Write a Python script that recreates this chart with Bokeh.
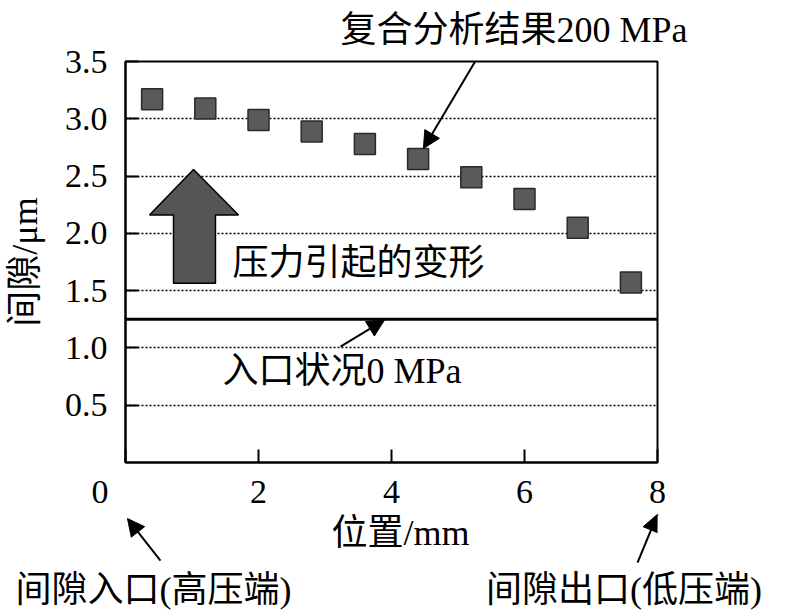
import math
from bokeh.plotting import figure
from bokeh.layouts import column
from bokeh.models import Range1d, FixedTicker, Label, Arrow, NormalHead, ColumnDataSource, Title
from bokeh.embed import file_html
from bokeh.resources import INLINE

# ---- data ----
positions = [0.4, 1.2, 2.0, 2.8, 3.6, 4.4, 5.2, 6.0, 6.8, 7.6]          # 位置/mm
gap_200mpa = [3.17, 3.09, 2.99, 2.89, 2.78, 2.65, 2.49, 2.30, 2.05, 1.57]  # 复合分析结果200 MPa
line_x = [0, 8]
gap_0mpa = [1.25, 1.25]                                                    # 入口状况0 MPa
y_ticks = [0.5, 1.0, 1.5, 2.0, 2.5, 3.0, 3.5]
y_tick_labels = ["0.5", "1.0", "1.5", "2.0", "2.5", "3.0", "3.5"]
x_ticks = [0, 2, 4, 6, 8]
x_tick_labels = ["0", "2", "4", "6", "8"]

MIX = "Liberation Serif, Noto Sans CJK SC"
SERIF = "Liberation Serif"

# ---------------- main chart ----------------
p = figure(width=787, height=512, output_backend="svg", toolbar_location=None,
           x_range=Range1d(0, 8), y_range=Range1d(0, 3.5),
           min_border_left=125, min_border_right=130, min_border_top=59, min_border_bottom=48)
p.background_fill_color = "white"
p.border_fill_color = "white"
p.outline_line_color = "black"
p.outline_line_width = 2
p.xgrid.visible = False
p.ygrid.ticker = FixedTicker(ticks=y_ticks[:-1])
p.ygrid.grid_line_color = "black"
p.ygrid.grid_line_dash = "2 2"
p.ygrid.grid_line_width = 1.5

for ax in (p.xaxis[0], p.yaxis[0]):
    ax.axis_line_color = "black"
    ax.axis_line_width = 2
    ax.major_tick_in = 13
    ax.major_tick_out = 0
    ax.major_tick_line_width = 2
    ax.minor_tick_line_color = None
    ax.major_label_text_font = SERIF
    ax.major_label_text_font_size = "34px"
    ax.major_label_text_color = "black"
    ax.axis_label_text_font = MIX
    ax.axis_label_text_font_size = "36px"
    ax.axis_label_text_font_style = "normal"
    ax.axis_label_text_color = "black"

p.yaxis.ticker = FixedTicker(ticks=y_ticks)
p.yaxis.major_label_overrides = {t: l for t, l in zip(y_ticks, y_tick_labels)}
p.yaxis.major_label_standoff = 18
p.yaxis.axis_label = "间隙/μm"
p.yaxis.axis_label_standoff = 17
p.xaxis.ticker = FixedTicker(ticks=x_ticks)
# the origin "0" sits left of the corner: pad it with em/en spaces
overrides = {t: l for t, l in zip(x_ticks, x_tick_labels)}
overrides[0] = overrides[0] + "\u2003\u2002"
p.xaxis.major_label_overrides = overrides
p.xaxis.major_label_standoff = 10

p.title = Title(text="复合分析结果200 MPa", align="left", offset=215, standoff=19,
                vertical_align="top",
                text_font=MIX, text_font_size="36px", text_font_style="normal",
                text_color="black")

# 0 MPa line
p.line(line_x, gap_0mpa, line_color="black", line_width=3)

# 200 MPa squares
src = ColumnDataSource(dict(x=positions, y=gap_200mpa))
p.scatter("x", "y", source=src, marker="square", size=21,
          fill_color="#5a5a5a", line_color="#2a2a2a", line_width=1.5)

# big block arrow (压力引起的变形)
block_x = [1.023, 1.699, 1.353, 1.353, 0.722, 0.722, 0.361]
block_y = [2.558, 2.161, 2.161, 1.564, 1.564, 2.161, 2.161]
p.patch(block_x, block_y, fill_color="#555555", line_color="black", line_width=1.5)


def lab(fig, x, y, text, size="36px", align="left", base="middle", font=MIX,
        color="black", alpha=1.0):
    fig.add_layout(Label(x=x, y=y, text=text, text_font=font, text_font_size=size,
                         text_align=align, text_baseline=base,
                         text_color=color, text_alpha=alpha))


def arr(fig, x0, y0, x1, y1):
    fig.add_layout(Arrow(x_start=x0, y_start=y0, x_end=x1, y_end=y1, line_width=2,
                         line_color="black",
                         end=NormalHead(size=17, fill_color="black", line_color="black")))


arr(p, 5.34, 3.58, 4.48, 2.74)
lab(p, 1.609, 1.737, "压力引起的变形")
lab(p, 1.459, 0.795, "入口状况0 MPa")
arr(p, 3.233, 1.011, 3.895, 1.244)

# ---------------- bottom strip (frame aligned with the chart, same x scale) ----------------
q = figure(width=787, height=102, output_backend="svg", toolbar_location=None,
           x_range=p.x_range,
           y_range=Range1d(-100 / 115.714, -48 / 115.714),
           min_border_left=125, min_border_right=130, min_border_top=0, min_border_bottom=50)
q.axis.visible = False
q.grid.visible = False
q.outline_line_color = None
q.background_fill_color = "white"
q.border_fill_color = "white"

lab(q, 4.135, -0.596, "位置/mm", align="center")
arr(q, 0.526, -0.83, 0.03, -0.467)
arr(q, 7.70, -0.847, 8.0, -0.43)
q.add_layout(Title(text="间隙入口(高压端)" + "\u3000" * 5 + "\u2009\u2009" + "间隙出口(低压端)",
                   align="left", offset=-110, standoff=6,
                   text_font=MIX, text_font_size="36px", text_font_style="normal",
                   text_color="black"), "below")

layout = column(p, q, spacing=0)
open("out.html", "w").write(file_html(layout, INLINE))
